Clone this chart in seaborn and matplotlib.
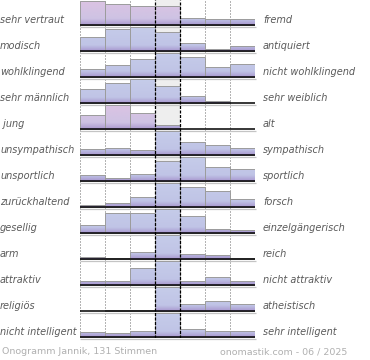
import numpy as np
import pandas as pd
import matplotlib
matplotlib.use("Agg")
import matplotlib.pyplot as plt
import seaborn as sns

# ---- data (relative bar heights per row, 7-step scale) ----
left_labels = ["sehr vertraut", "modisch", "wohlklingend", "sehr männlich", " jung",
               "unsympathisch", "unsportlich", "zurückhaltend", "gesellig", "arm",
               "attraktiv", "religiös", "nicht intelligent"]
right_labels = ["fremd", "antiquiert", "nicht wohlklingend", "sehr weiblich", "alt",
                "sympathisch", "sportlich", "forsch", "einzelgängerisch", "reich",
                "nicht attraktiv", "atheistisch", "sehr intelligent"]
scale_steps = [1, 2, 3, 4, 5, 6, 7]

vals_vertraut = [100, 90, 79, 79, 32, 24, 24]
vals_modisch = [60, 93, 100, 80, 33, 9, 20]
vals_klang = [35, 52, 75, 100, 86, 43, 54]
vals_maennlich = [58, 83, 100, 70, 28, 8, 0]
vals_jung = [60, 100, 66, 19, 0, 0, 0]
vals_sympath = [25, 32, 23, 100, 55, 41, 29]
vals_sportlich = [24, 13, 32, 85, 100, 60, 51]
vals_forsch = [11, 18, 42, 100, 83, 67, 33]
vals_gesellig = [36, 83, 83, 100, 72, 17, 12]
vals_reich = [8, 4, 29, 100, 21, 17, 4]
vals_attraktiv = [18, 18, 72, 100, 18, 33, 17]
vals_religioes = [0, 7, 7, 100, 32, 42, 29]
vals_intelligent = [20, 17, 25, 100, 36, 25, 25]
rows = [vals_vertraut, vals_modisch, vals_klang, vals_maennlich, vals_jung,
        vals_sympath, vals_sportlich, vals_forsch, vals_gesellig, vals_reich,
        vals_attraktiv, vals_religioes, vals_intelligent]
pink_bars = {0: [0, 1, 2, 3], 4: [0, 1, 2]}

footer_left = "Onogramm Jannik, 131 Stimmen"
footer_right = "onomastik.com - 06 / 2025"

# ---- layout ----
W, H = 370, 360
fig = plt.figure(figsize=(W / 100, H / 100), dpi=100)
fig.patch.set_facecolor("white")

def fx(px):
    return px / W

def fy(py):
    return 1 - py / H

x0px, x1px = 79.5, 254.5
UNIT = 100 / 24.0          # data units per pixel
ytop = 26 * UNIT
ybot = -1 * UNIT
baselines = [25.2 + 26 * i for i in range(len(rows))]
chart_bottom = baselines[-1] + 1

def make_grad(top, mid, bottom, mid_t):
    n = 200
    t = np.linspace(0, 1, n)
    top, mid, bottom = [np.array(matplotlib.colors.to_rgb(c)) for c in (top, mid, bottom)]
    out = np.zeros((n, 1, 3))
    for k, tt in enumerate(t):
        if tt < mid_t:
            f = tt / mid_t
            out[k, 0] = bottom * (1 - f) + mid * f
        else:
            f = (tt - mid_t) / (1 - mid_t)
            out[k, 0] = mid * (1 - f) + top * f
    return out

grad_blue = make_grad("#c6cdea", "#c0c4e6", "#a897cf", 0.22)
grad_pink = make_grad("#ddc3e3", "#cec3e4", "#ab99cf", 0.25)

# underlay: gray middle column + dotted grid
under = fig.add_axes([fx(x0px), fy(chart_bottom), (x1px - x0px) / W, chart_bottom / H], zorder=0)
under.set_xlim(-0.5, 6.5)
under.set_ylim(0, 1)
under.axvspan(2.5, 3.5, color="#eeeeee", lw=0)
for b in [-0.5, 0.5, 1.5, 4.5, 5.5, 6.5]:
    under.axvline(b, color="#6a6a6a", lw=0.72, ls=(0, (1, 2)))
under.axis("off")

for i, b in enumerate(baselines):
    ax = fig.add_axes([fx(x0px), fy(b + 1), (x1px - x0px) / W, 27 / H], zorder=1)
    ax.patch.set_alpha(0)
    df = pd.DataFrame({"step": scale_steps, "value": rows[i]})
    sns.barplot(data=df, x="step", y="value", ax=ax, width=1, color="#c5cce8",
                edgecolor="#9c9c9c", linewidth=0.7, errorbar=None)
    for j, p in enumerate(ax.patches):
        g = grad_pink if j in pink_bars.get(i, []) else grad_blue
        im = ax.imshow(g, extent=(p.get_x(), p.get_x() + p.get_width(), 0, ytop),
                       origin="lower", aspect="auto", zorder=1.5, interpolation="bilinear")
        im.set_clip_path(p)
        p.set_facecolor("none")
        p.set_zorder(2)
        if p.get_height() <= 0:
            p.set_edgecolor("none")
    ax.plot([-0.5, 6.55], [-1.4 * UNIT, -1.4 * UNIT], color="#c4c4c4", lw=0.9,
            clip_on=False, zorder=2.8, solid_capstyle="butt")
    ax.plot([-0.5, 6.5], [0, 0], color="black", lw=1.1, zorder=3, solid_capstyle="butt")
    ax.set_xlim(-0.5, 6.5)
    ax.set_ylim(ybot, ytop)
    ax.axis("off")

    fig.text(fx(0), fy(b - 5.0), left_labels[i], fontsize=7, style="italic",
             color="#5a5a5a", ha="left", va="center")
    fig.text(fx(263), fy(b - 5.0), right_labels[i], fontsize=7, style="italic",
             color="#5a5a5a", ha="left", va="center")

# overlay: dashed middle lines
over = fig.add_axes([fx(x0px), fy(chart_bottom), (x1px - x0px) / W, chart_bottom / H], zorder=3)
over.patch.set_alpha(0)
over.set_xlim(-0.5, 6.5)
over.set_ylim(0, 1)
for b in [2.5, 3.5]:
    over.axvline(b, color="black", lw=0.9, ls=(0, (2.4, 1.2)))
over.axis("off")

fig.text(fx(2), fy(352), footer_left, fontsize=6.8, color="#b0b0b0", ha="left", va="center")
fig.text(fx(347), fy(352), footer_right, fontsize=6.8, color="#b0b0b0", ha="right", va="center")

fig.savefig("out.png", dpi=100)
